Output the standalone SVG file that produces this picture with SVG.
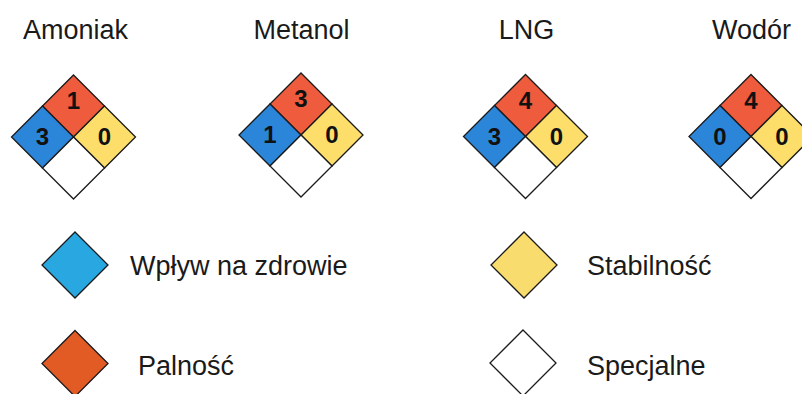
<svg xmlns="http://www.w3.org/2000/svg" width="802" height="394" viewBox="0 0 802 394">
<style>
  .bg{fill:#ffffff}
  .title{font-family:"Liberation Sans",Arial,sans-serif;font-size:27px;fill:#1a1a1a;text-anchor:middle}
  .lbl{font-family:"Liberation Sans",Arial,sans-serif;font-size:27px;fill:#1a1a1a}
  .num{font-family:"Liberation Sans",Arial,sans-serif;font-size:24px;font-weight:bold;fill:#111111;text-anchor:middle}
  .s{stroke:#1a1a1a;stroke-width:1.3;stroke-linejoin:miter}
  .red{fill:#EE5B3D}
  .blue{fill:#2B86DA}
  .yel{fill:#FDDE6B}
  .wht{fill:#ffffff}
  .lblue{fill:#29A7E1}
  .lorange{fill:#E25A24}
  .lyel{fill:#F9DC6E}
</style>
<defs>
  <g id="nfpa">
    <path class="s red" d="M0,-62 L31,-31 L0,0 L-31,-31 Z"/>
    <path class="s blue" d="M-31,-31 L0,0 L-31,31 L-62,0 Z"/>
    <path class="s yel" d="M31,-31 L62,0 L31,31 L0,0 Z"/>
    <path class="s wht" d="M0,0 L31,31 L0,62 L-31,31 Z"/>
  </g>
  <path id="leg" d="M0,-33 L33,0 L0,33 L-33,0 Z"/>
</defs>
<rect class="bg" x="0" y="0" width="802" height="394"/>

<g id="amoniak">
  <text class="title" x="75.5" y="38.5">Amoniak</text>
  <use href="#nfpa" x="73.5" y="137"/>
  <text class="num" x="73.5" y="109">1</text>
  <text class="num" x="42.5" y="145">3</text>
  <text class="num" x="104.5" y="145">0</text>
</g>

<g id="metanol">
  <text class="title" x="301.5" y="38.5">Metanol</text>
  <use href="#nfpa" x="301" y="135"/>
  <text class="num" x="301" y="107">3</text>
  <text class="num" x="270" y="143">1</text>
  <text class="num" x="332" y="143">0</text>
</g>

<g id="lng">
  <text class="title" x="526.5" y="38.5">LNG</text>
  <use href="#nfpa" x="525.5" y="136.5"/>
  <text class="num" x="525.5" y="108.5">4</text>
  <text class="num" x="494.5" y="144.5">3</text>
  <text class="num" x="556.5" y="144.5">0</text>
</g>

<g id="wodor">
  <text class="title" x="751.5" y="38.5">Wodór</text>
  <use href="#nfpa" x="751" y="136.5"/>
  <text class="num" x="751" y="108.5">4</text>
  <text class="num" x="720" y="144.5">0</text>
  <text class="num" x="782" y="144.5">0</text>
</g>

<g id="legend-zdrowie">
  <use href="#leg" class="s lblue" x="75" y="265"/>
  <text class="lbl" x="130" y="275">Wpływ na zdrowie</text>
</g>
<g id="legend-palnosc">
  <use href="#leg" class="s lorange" x="75" y="363.5"/>
  <text class="lbl" x="138" y="375">Palność</text>
</g>
<g id="legend-stabilnosc">
  <use href="#leg" class="s lyel" x="524" y="265"/>
  <text class="lbl" x="587" y="275">Stabilność</text>
</g>
<g id="legend-specjalne">
  <use href="#leg" class="s wht" x="523" y="363"/>
  <text class="lbl" x="587" y="375">Specjalne</text>
</g>
<g id="connectors"></g>
</svg>
